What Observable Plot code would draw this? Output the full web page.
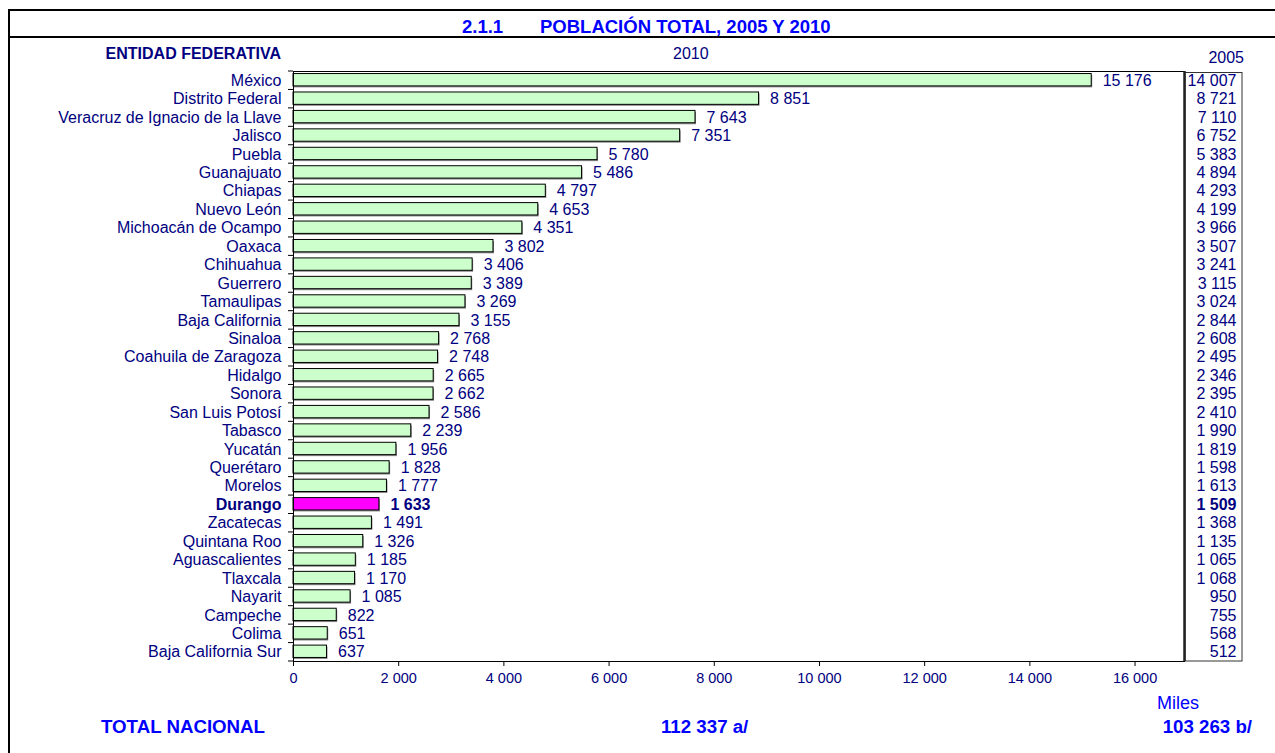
<!DOCTYPE html>
<html><head><meta charset="utf-8">
<script src="https://cdn.jsdelivr.net/npm/d3@7"></script>
<script src="https://cdn.jsdelivr.net/npm/@observablehq/plot@0.6"></script>
<style>
body{margin:0;background:#fff;font-family:Arial,"Liberation Sans",sans-serif;}
#page{position:relative;width:1275px;height:753px;overflow:hidden;background:#fff;}
.t{position:absolute;white-space:pre;line-height:1;}
.ln{position:absolute;background:#000;}
#chart{position:absolute;left:0;top:0;}
</style></head><body>
<div id="page">
  <div class="ln" style="left:8px;top:9px;width:1275px;height:2px"></div>
  <div class="ln" style="left:8px;top:9px;width:2px;height:760px"></div>
  <div class="ln" style="left:8px;top:36px;width:1275px;height:2px"></div>
  <div id="chart"></div>
  <div class="t" id="num" style="left:462px;top:18px;font-size:18.5px;font-weight:bold;color:#0000FF"></div>
  <div class="t" id="title" style="left:540px;top:18px;font-size:18.5px;font-weight:bold;color:#0000FF"></div>
  <div class="t" id="hdrEnt" style="right:994px;top:46px;font-size:16px;font-weight:bold;color:#000080"></div>
  <div class="t" id="hdr2010" style="left:673px;top:46px;font-size:16px;color:#000080"></div>
  <div class="t" id="hdr2005" style="right:31px;top:50px;font-size:16px;color:#000080"></div>
  <div class="t" id="miles" style="left:1157px;top:694px;font-size:18px;color:#0000FF"></div>
  <div class="t" id="totLbl" style="left:101px;top:718px;font-size:18.7px;font-weight:bold;color:#0000FF"></div>
  <div class="t" id="tot2010" style="left:661px;top:718px;font-size:18.7px;font-weight:bold;color:#0000FF"></div>
  <div class="t" id="tot2005" style="right:23px;top:718px;font-size:18.7px;font-weight:bold;color:#0000FF"></div>
</div>
<script>
const entidades = ["México","Distrito Federal","Veracruz de Ignacio de la Llave","Jalisco","Puebla","Guanajuato","Chiapas","Nuevo León","Michoacán de Ocampo","Oaxaca","Chihuahua","Guerrero","Tamaulipas","Baja California","Sinaloa","Coahuila de Zaragoza","Hidalgo","Sonora","San Luis Potosí","Tabasco","Yucatán","Querétaro","Morelos","Durango","Zacatecas","Quintana Roo","Aguascalientes","Tlaxcala","Nayarit","Campeche","Colima","Baja California Sur"];
const pob2010 = [15176,8851,7643,7351,5780,5486,4797,4653,4351,3802,3406,3389,3269,3155,2768,2748,2665,2662,2586,2239,1956,1828,1777,1633,1491,1326,1185,1170,1085,822,651,637];
const pob2005 = [14007,8721,7110,6752,5383,4894,4293,4199,3966,3507,3241,3115,3024,2844,2608,2495,2346,2395,2410,1990,1819,1598,1613,1509,1368,1135,1065,1068,950,755,568,512];
const xTicks = [0,2000,4000,6000,8000,10000,12000,14000,16000];
const destacado = "Durango";
const tituloNum = "2.1.1";
const titulo = "POBLACIÓN TOTAL, 2005 Y 2010";
const encabezadoEntidad = "ENTIDAD FEDERATIVA";
const encabezado2010 = "2010";
const encabezado2005 = "2005";
const unidad = "Miles";
const totalEtiqueta = "TOTAL NACIONAL";
const total2010 = "112 337 a/";
const total2005 = "103 263 b/";

document.getElementById("num").textContent = tituloNum;
document.getElementById("title").textContent = titulo;
document.getElementById("hdrEnt").textContent = encabezadoEntidad;
document.getElementById("hdr2010").textContent = encabezado2010;
document.getElementById("hdr2005").textContent = encabezado2005;
document.getElementById("miles").textContent = unidad;
document.getElementById("totLbl").textContent = totalEtiqueta;
document.getElementById("tot2010").textContent = total2010;
document.getElementById("tot2005").textContent = total2005;

const fmt = d3.formatLocale({thousands:" ", grouping:[3], decimal:".", currency:["",""]}).format(",");
const data = entidades.map((e,i)=>({entidad:e, v2010:pob2010[i], v2005:pob2005[i]}));
const normal = data.filter(d=>d.entidad!==destacado);
const resaltado = data.filter(d=>d.entidad===destacado);
const navy = "#000080";
const xMax = 16940;

const chart = Plot.plot({
  width:1275, height:700, marginTop:71, marginBottom:39, marginLeft:293, marginRight:91,
  style:{fontFamily:"Arial, 'Liberation Sans', sans-serif", fontSize:"16px", background:"transparent", overflow:"visible"},
  x:{domain:[0,xMax]},
  y:{domain:entidades, paddingInner:0.33, paddingOuter:0.165, round:false, axis:null},
  marks:[
    Plot.barX(data,{y:"entidad", x:"v2010", fill:"#8a8a8a", dx:1, dy:1}),
    Plot.barX(data,{y:"entidad", x:"v2010", fill:d=>d.entidad===destacado?"#FF00FF":"#CCFFCC", stroke:"#000", strokeWidth:1, dy:-0.5}),
    Plot.frame({stroke:"#000", strokeWidth:1}),
    Plot.ruleX([xMax],{stroke:"#222", strokeWidth:2.5}),
    Plot.text(normal,{y:"entidad", x:"v2010", text:d=>fmt(d.v2010), textAnchor:"start", dx:11, fill:navy}),
    Plot.text(resaltado,{y:"entidad", x:"v2010", text:d=>fmt(d.v2010), textAnchor:"start", dx:11, fill:navy, fontWeight:"bold"}),
    Plot.text(normal,{y:"entidad", frameAnchor:"left", text:"entidad", textAnchor:"end", dx:-12, fill:navy}),
    Plot.text(resaltado,{y:"entidad", frameAnchor:"left", text:"entidad", textAnchor:"end", dx:-12, fill:navy, fontWeight:"bold"}),
    Plot.text(normal,{y:"entidad", frameAnchor:"right", text:d=>fmt(d.v2005), textAnchor:"end", dx:52, fill:navy}),
    Plot.text(resaltado,{y:"entidad", frameAnchor:"right", text:d=>fmt(d.v2005), textAnchor:"end", dx:52, fill:navy, fontWeight:"bold"}),
    Plot.axisX({ticks:xTicks, tickFormat:fmt, tickSize:5, tickPadding:6, fontSize:14.5, fill:navy, stroke:"#000", label:null})
  ]
});
document.getElementById("chart").appendChild(chart);

// decorations: category boundary ticks and 2005 box
const svg = d3.select(chart);
const ys = chart.scale("y"), xs = chart.scale("x");
const off = (ys.step - ys.bandwidth)/2;
const x0 = xs.apply(0);
const g = svg.append("g").attr("stroke","#000");
const bounds = entidades.map(e=>ys.apply(e)-off).concat([ys.apply(entidades[entidades.length-1])+ys.bandwidth+off]);
bounds.forEach(y=>g.append("line").attr("x1",x0-5).attr("x2",x0).attr("y1",y).attr("y2",y));
const xr = xs.apply(xMax);
const [r0, r1] = ys.range;
svg.insert("rect",":first-child").attr("x",xr+1).attr("y",r0+1.5).attr("width",57).attr("height",r1-r0-1.5).attr("fill","none").attr("stroke","#333").attr("stroke-width",1);
</script>
</body></html>
